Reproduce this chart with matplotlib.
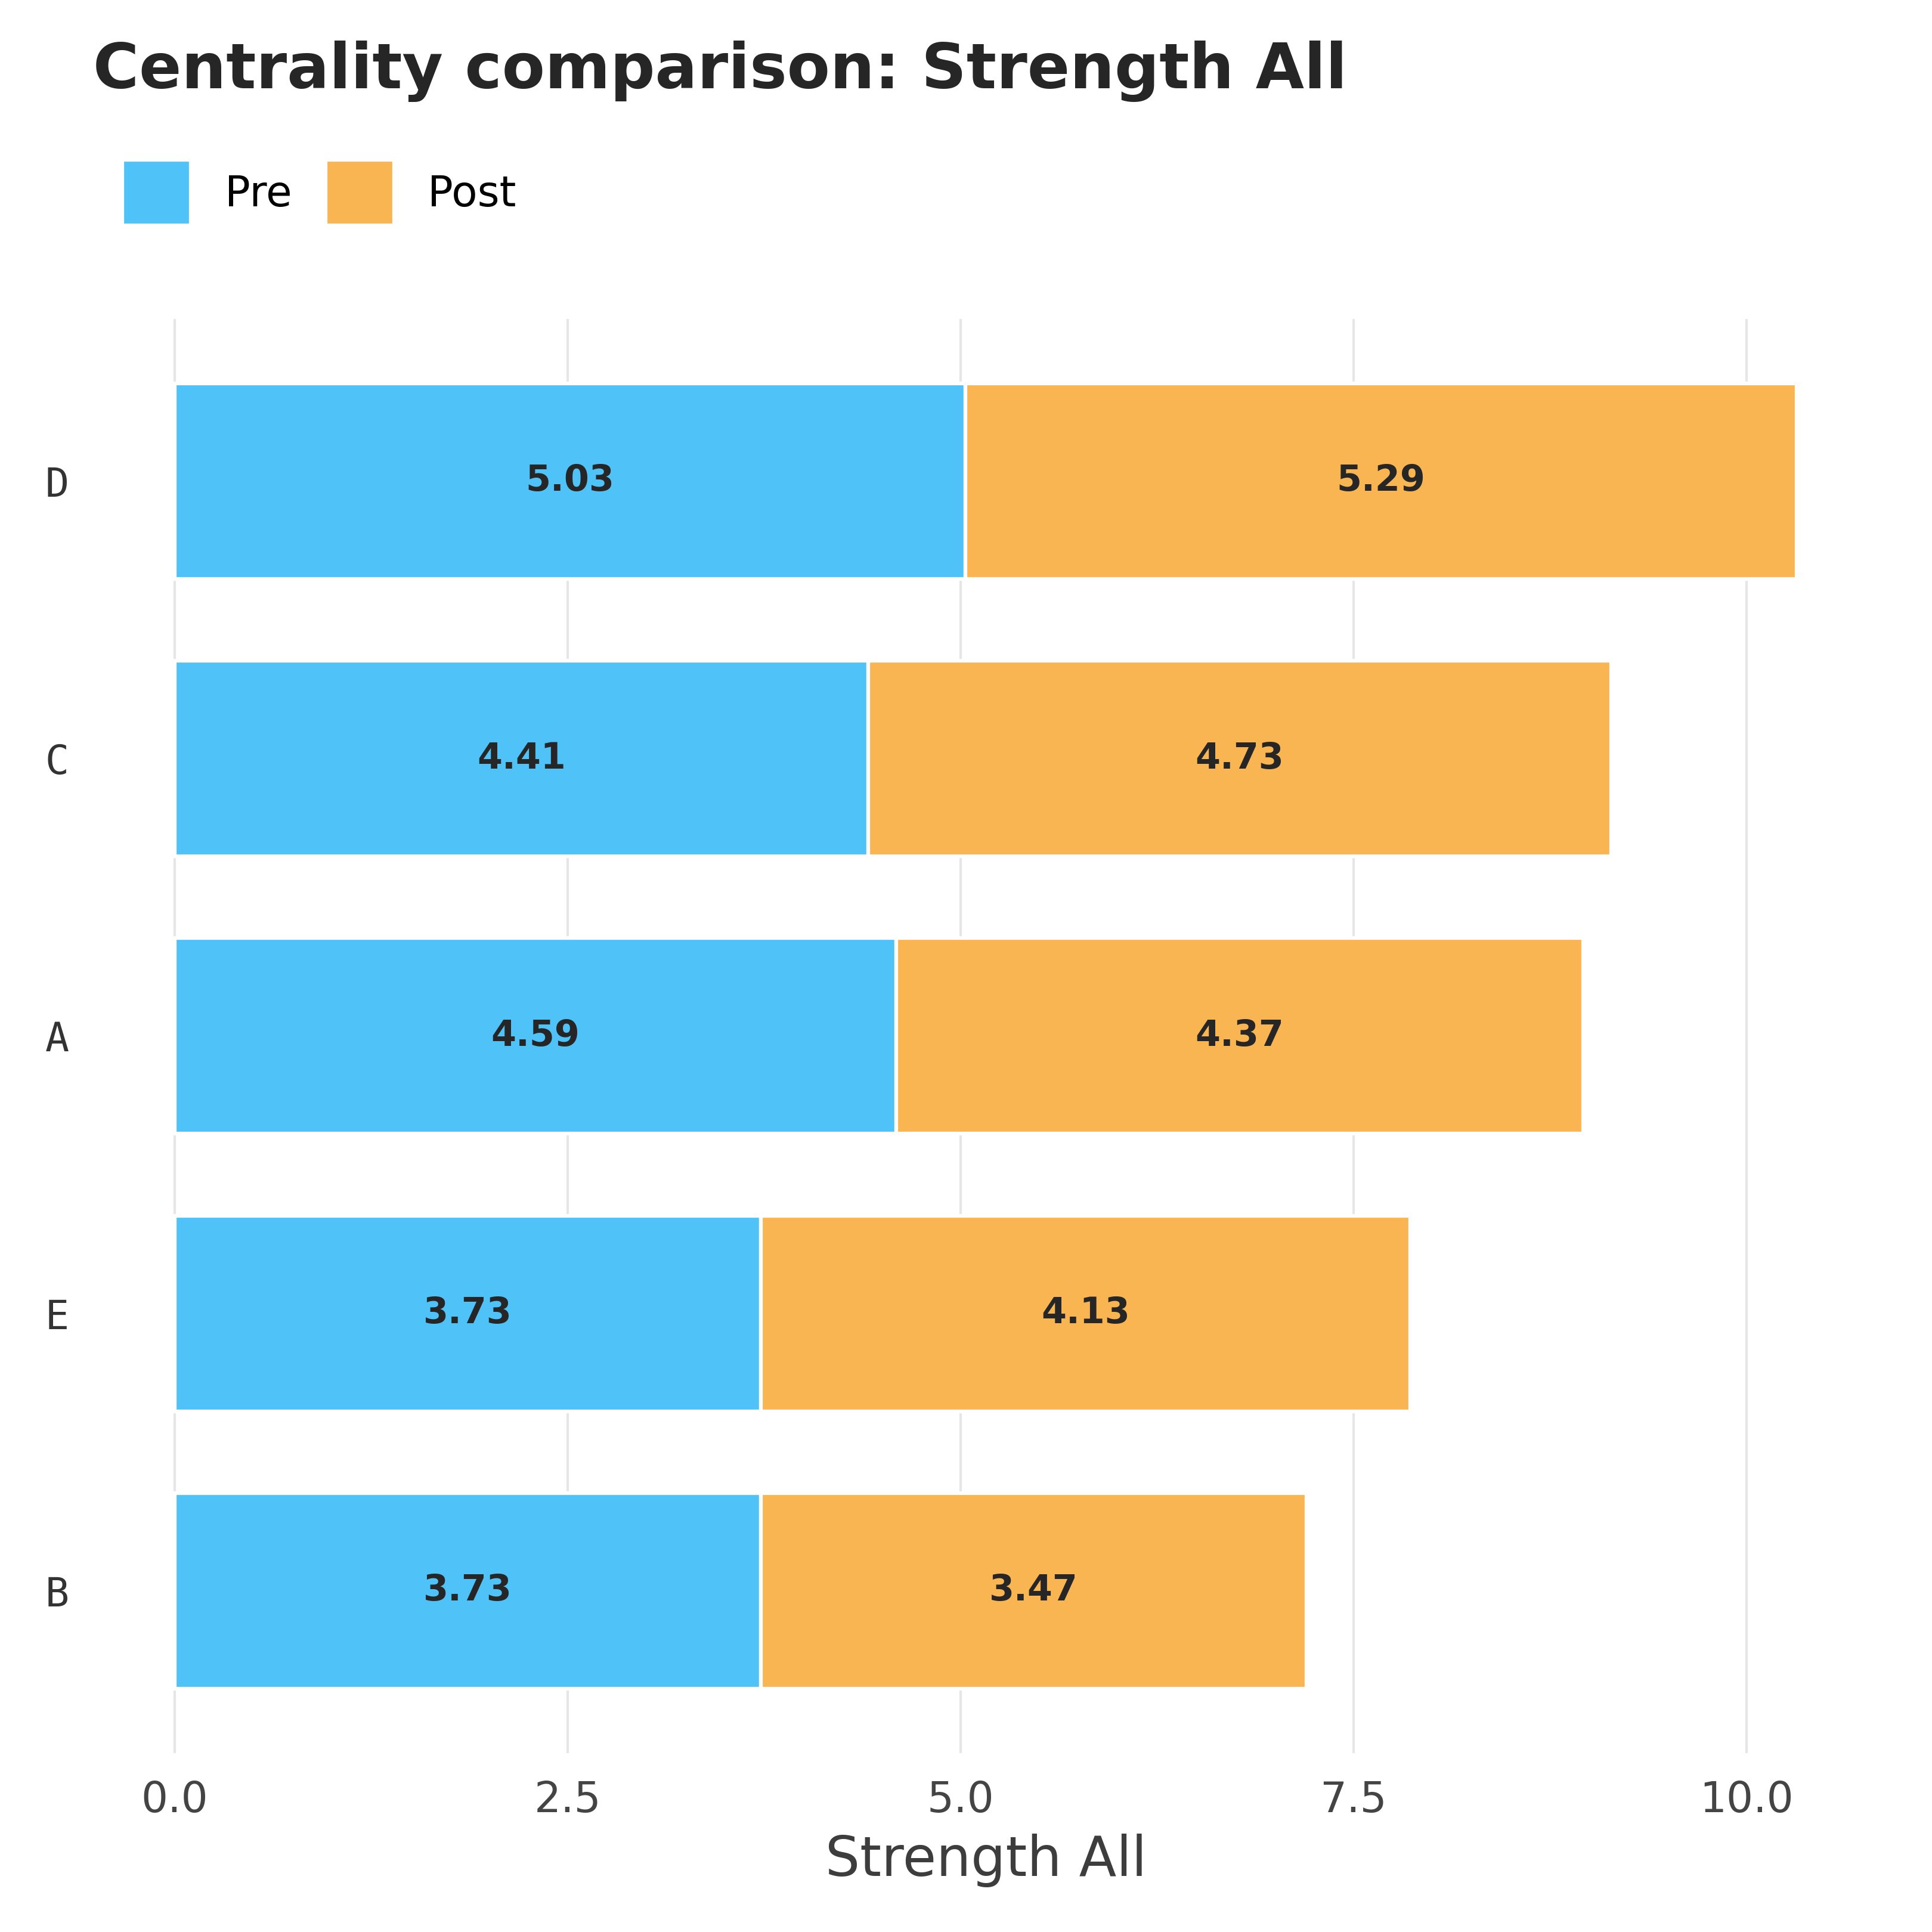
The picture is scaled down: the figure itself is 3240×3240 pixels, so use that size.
import matplotlib
matplotlib.use("Agg")
import matplotlib.pyplot as plt
import numpy as np

categories = ["B", "E", "A", "C", "D"]
pre_values = [3.73, 3.73, 4.59, 4.41, 5.03]
post_values = [3.47, 4.13, 4.37, 4.73, 5.29]
series_names = ["Pre", "Post"]
colors = ["#4FC3F7", "#F9B552"]
title = "Centrality comparison: Strength All"
xlabel = "Strength All"
xticks = [0.0, 2.5, 5.0, 7.5, 10.0]

fig = plt.figure(figsize=(10.8, 10.8), dpi=300)
ax = fig.add_axes([0.0485, 0.0926, 0.9235, 0.7424])

y = np.arange(len(categories))
pre = np.array(pre_values)
post = np.array(post_values)
b1 = ax.barh(y, pre, height=0.705, color=colors[0], edgecolor="white", linewidth=1.5, label=series_names[0], zorder=2)
b2 = ax.barh(y, post, left=pre, height=0.705, color=colors[1], edgecolor="white", linewidth=1.5, label=series_names[1], zorder=2)

for bars, vals in ((b1, pre), (b2, post)):
    for rect, v in zip(bars, vals):
        ax.text(rect.get_x() + rect.get_width() / 2, rect.get_y() + rect.get_height() / 2,
                f"{v:.2f}", ha="center", va="center", fontsize=14.5, fontweight="bold",
                color="#262626", zorder=3)

total_max = float((pre + post).max())
ax.set_xlim(-0.05 * total_max, total_max * 1.05)
ax.set_ylim(-0.35 - 0.05 * 4.7, 4.35 + 0.05 * 4.7)

ax.set_yticks(y)
ax.set_yticklabels(categories, family="DejaVu Sans Mono", fontsize=16, color="#333333")
ax.set_xticks(xticks)
ax.set_xticklabels([f"{t:.1f}" for t in xticks], fontsize=17, color="#444444")
ax.tick_params(axis="both", length=0)
ax.tick_params(axis="x", pad=10.9)
ax.tick_params(axis="y", pad=10)
ax.grid(axis="x", color="#E6E6E6", linewidth=1.0, zorder=0)
ax.set_axisbelow(True)
for s in ax.spines.values():
    s.set_visible(False)
ax.set_xlabel(xlabel, fontsize=22, color="#3d3d3d", labelpad=5)

fig.text(0.048, 0.963, title, fontsize=25.2, fontweight="bold", color="#262626", ha="left", va="center")
fig.legend(handles=[b1, b2], labels=series_names, loc="upper left", bbox_to_anchor=(0.0437, 0.937),
           ncol=2, frameon=False, fontsize=17, handlelength=1.62, handleheight=2.02,
           handletextpad=0.8, columnspacing=0.8, borderpad=0.4)

fig.savefig("out.png", dpi=300, facecolor="white")
